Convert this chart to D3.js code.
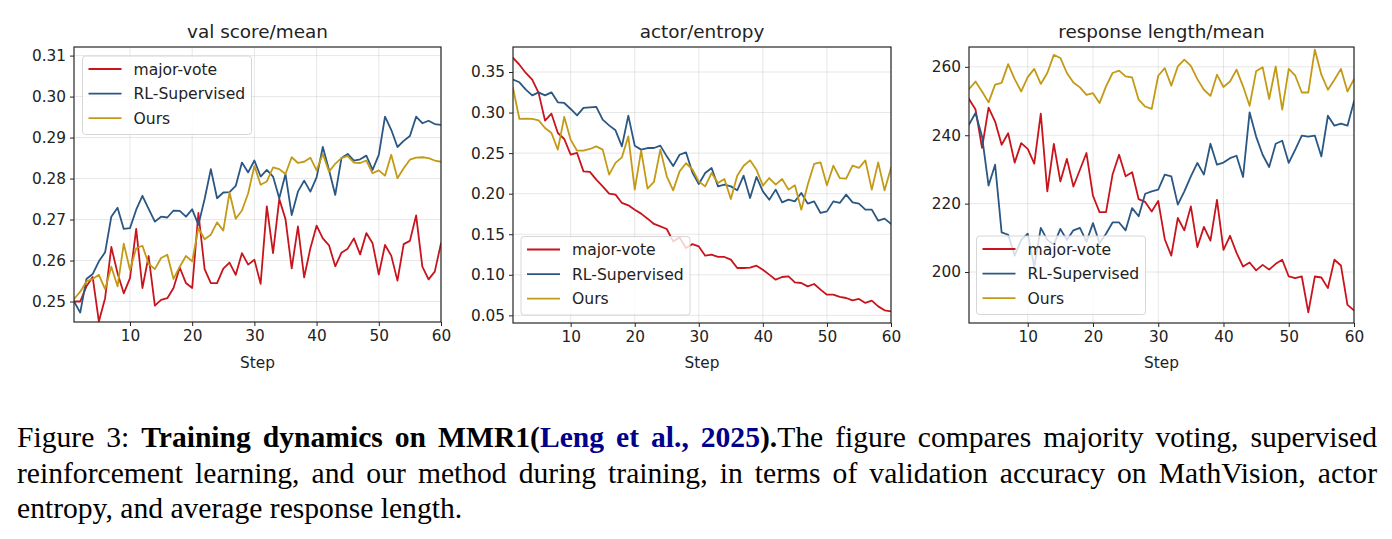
<!DOCTYPE html>
<html>
<head>
<meta charset="utf-8">
<script src="https://cdn.jsdelivr.net/npm/d3@7"></script>
<style>
  html, body { margin: 0; padding: 0; background: #fff; }
  #wrap { position: relative; width: 1392px; height: 539px; overflow: hidden; }
  svg { position: absolute; left: 0; top: 0; }
  .cap { position: absolute; left: 17px; width: 1360px; font-family: "Liberation Serif", "Times New Roman", serif;
         font-size: 29.6px; color: #000; white-space: nowrap; line-height: 36px; }
  .just { text-align: justify; text-align-last: justify; }
  .cite { color: #00008b; }
</style>
</head>
<body>
<div id="wrap">
  <svg id="chart" width="1392" height="400"></svg>
  <div class="cap just" style="top:419px"><span>Figure 3: </span><b>Training dynamics on MMR1(<span class="cite">Leng et al., 2025</span>).</b>The figure compares majority voting, supervised</div>
  <div class="cap just" style="top:455px">reinforcement learning, and our method during training, in terms of validation accuracy on MathVision, actor</div>
  <div class="cap" style="top:490px">entropy, and average response length.</div>
</div>
<script>
// ---------------- data ----------------
const steps = d3.range(1, 61);
const seriesNames = ["major-vote", "RL-Supervised", "Ours"];

const valMajor = [0.2500,0.2500,0.2537,0.2560,0.2451,0.2508,0.2633,0.2569,0.2520,0.2557,0.2677,0.2533,0.2611,0.2490,0.2504,0.2508,0.2533,0.2583,0.2545,0.2533,0.2716,0.2579,0.2545,0.2545,0.2580,0.2595,0.2565,0.2618,0.2590,0.2602,0.2543,0.2732,0.2618,0.2750,0.2701,0.2581,0.2683,0.2559,0.2630,0.2685,0.2654,0.2637,0.2586,0.2619,0.2629,0.2654,0.2615,0.2667,0.2642,0.2566,0.2638,0.2612,0.2551,0.2640,0.2648,0.2710,0.2585,0.2554,0.2573,0.2642];
const valRL = [0.2500,0.2473,0.2555,0.2567,0.2598,0.2620,0.2707,0.2729,0.2677,0.2679,0.2724,0.2758,0.2726,0.2695,0.2707,0.2705,0.2722,0.2721,0.2707,0.2725,0.2687,0.2750,0.2823,0.2752,0.2766,0.2767,0.2782,0.2839,0.2815,0.2844,0.2805,0.2821,0.2805,0.2752,0.2811,0.2711,0.2768,0.2795,0.2768,0.2803,0.2877,0.2821,0.2760,0.2850,0.2860,0.2844,0.2847,0.2856,0.2821,0.2858,0.2951,0.2919,0.2877,0.2892,0.2904,0.2951,0.2935,0.2941,0.2933,0.2931];
const valOurs = [0.2506,0.2524,0.2549,0.2555,0.2565,0.2530,0.2585,0.2537,0.2641,0.2577,0.2630,0.2636,0.2592,0.2579,0.2606,0.2614,0.2555,0.2585,0.2611,0.2598,0.2679,0.2652,0.2663,0.2693,0.2673,0.2766,0.2702,0.2722,0.2764,0.2831,0.2785,0.2793,0.2827,0.2823,0.2811,0.2852,0.2838,0.2841,0.2851,0.2820,0.2860,0.2817,0.2836,0.2850,0.2855,0.2839,0.2838,0.2844,0.2813,0.2820,0.2807,0.2858,0.2801,0.2825,0.2846,0.2851,0.2852,0.2850,0.2844,0.2841];

const entMajor = [0.3673,0.3590,0.3488,0.3406,0.3242,0.2900,0.2986,0.2748,0.2674,0.2481,0.2502,0.2275,0.2268,0.2173,0.2090,0.2000,0.1988,0.1886,0.1856,0.1803,0.1754,0.1692,0.1627,0.1597,0.1565,0.1412,0.1460,0.1331,0.1378,0.1350,0.1236,0.1248,0.1220,0.1220,0.1187,0.1084,0.1084,0.1088,0.1113,0.1063,0.1002,0.0940,0.0973,0.0981,0.0907,0.0899,0.0858,0.0887,0.0817,0.0755,0.0755,0.0727,0.0714,0.0685,0.0702,0.0653,0.0681,0.0611,0.0562,0.0549];
const entRL = [0.3406,0.3373,0.3282,0.3212,0.3249,0.3212,0.3249,0.3126,0.3118,0.3044,0.2965,0.3057,0.3064,0.3069,0.2912,0.2842,0.2781,0.2583,0.2962,0.2592,0.2543,0.2563,0.2563,0.2592,0.2460,0.2340,0.2480,0.2510,0.2260,0.2120,0.2255,0.2317,0.2090,0.2111,0.2090,0.2041,0.2222,0.1947,0.2206,0.2029,0.1926,0.2050,0.1893,0.1926,0.1905,0.2009,0.1877,0.1905,0.1762,0.1782,0.1905,0.1886,0.1988,0.1893,0.1877,0.1803,0.1803,0.1667,0.1692,0.1627];
const entOurs = [0.3303,0.2921,0.2925,0.2921,0.2904,0.2810,0.2748,0.2543,0.2946,0.2666,0.2530,0.2530,0.2551,0.2583,0.2543,0.2235,0.2379,0.2448,0.2707,0.2050,0.2530,0.2062,0.2144,0.2543,0.2214,0.2041,0.2275,0.2375,0.2300,0.2150,0.2090,0.2255,0.2132,0.2181,0.1935,0.2222,0.2345,0.2411,0.2296,0.2099,0.2193,0.2111,0.2181,0.2050,0.2103,0.1803,0.2111,0.2366,0.2386,0.2103,0.2345,0.2193,0.2185,0.2345,0.2317,0.2411,0.2050,0.2386,0.2041,0.2317];

const lenMajor = [250.6,247.5,236.3,248.1,244.0,237.2,240.6,232.0,237.7,236.0,231.7,246.3,223.6,237.5,226.5,233.1,225.0,229.9,234.8,222.3,217.5,217.5,228.5,234.3,228.0,229.2,221.3,220.5,217.7,220.8,209.6,204.8,215.8,212.2,219.2,207.3,213.2,209.2,221.1,206.5,210.6,205.6,201.6,202.8,200.5,202.1,200.7,202.4,203.6,198.7,198.2,198.7,188.2,198.7,198.4,195.3,203.6,201.9,190.4,188.8];
const lenRL = [243.1,246.5,239.6,225.3,231.4,211.6,210.9,204.8,209.4,211.2,201.6,212.9,209.4,208.0,212.6,209.4,212.2,212.9,208.9,214.3,208.5,211.2,214.5,214.5,212.2,218.7,216.3,222.9,223.6,224.1,228.5,228.0,219.7,223.6,228.0,231.9,228.5,237.5,231.4,232.0,233.3,234.0,227.8,246.7,239.6,234.3,230.7,237.5,238.4,231.9,235.8,239.9,239.6,239.9,233.8,245.7,242.8,243.4,242.8,249.9];
const lenOurs = [253.5,255.7,252.8,249.6,254.8,255.3,260.8,256.4,252.8,257.0,259.4,255.0,258.2,263.5,262.6,258.2,255.4,254.0,251.8,252.3,249.4,254.3,258.2,258.9,257.2,256.9,250.4,248.4,247.7,257.4,259.6,254.5,260.1,262.1,260.3,256.4,253.3,251.5,257.7,254.1,255.7,259.2,254.3,248.6,258.7,259.9,250.6,260.1,247.5,259.4,257.4,252.5,252.5,265.0,257.7,253.3,256.2,259.4,252.8,256.4];

const xTicks = [10, 20, 30, 40, 50, 60];
const valTicks = [0.25, 0.26, 0.27, 0.28, 0.29, 0.30, 0.31];
const entTicks = [0.05, 0.10, 0.15, 0.20, 0.25, 0.30, 0.35];
const lenTicks = [200, 220, 240, 260];

// ---------------- styles / layout ----------------
const colors = ["#c8141c", "#2a5783", "#c39a17"];
const FONT = "DejaVu Sans, sans-serif";

const panels = [
  { title: "val score/mean", series: [valMajor, valRL, valOurs], domain: [0.2450, 0.3121], ticks: valTicks, fmt: d3.format(".2f"),
    box: { l: 74, r: 441, t: 47, b: 322 }, legend: { x: 82.5, y: 56 } },
  { title: "actor/entropy", series: [entMajor, entRL, entOurs], domain: [0.0406, 0.3808], ticks: entTicks, fmt: d3.format(".2f"),
    box: { l: 513, r: 891, t: 47, b: 323 }, legend: { x: 521, y: 236.5 } },
  { title: "response length/mean", series: [lenMajor, lenRL, lenOurs], domain: [185.1, 265.8], ticks: lenTicks, fmt: d3.format("d"),
    box: { l: 969, r: 1354, t: 47, b: 323 }, legend: { x: 976.5, y: 236 } }
];

const svg = d3.select("#chart");

panels.forEach(p => {
  const B = p.box;
  const x = d3.scaleLinear().domain([1, 60]).range([B.l, B.r]);
  const y = d3.scaleLinear().domain(p.domain).range([B.b, B.t]);
  const g = svg.append("g");

  // grid
  g.append("g").selectAll("line").data(xTicks).join("line")
    .attr("x1", d => x(d)).attr("x2", d => x(d)).attr("y1", B.t).attr("y2", B.b)
    .attr("stroke", "#b0b0b0").attr("stroke-opacity", 0.3).attr("stroke-width", 1);
  g.append("g").selectAll("line").data(p.ticks).join("line")
    .attr("x1", B.l).attr("x2", B.r).attr("y1", d => y(d)).attr("y2", d => y(d))
    .attr("stroke", "#b0b0b0").attr("stroke-opacity", 0.3).attr("stroke-width", 1);

  // clip
  const cid = "clip" + B.l;
  svg.append("defs").append("clipPath").attr("id", cid)
    .append("rect").attr("x", B.l).attr("y", B.t).attr("width", B.r - B.l).attr("height", B.b - B.t);

  // lines
  const line = d3.line().x((d, i) => x(steps[i])).y(d => y(d));
  const lg = g.append("g").attr("clip-path", `url(#${cid})`);
  p.series.forEach((s, k) => {
    lg.append("path").datum(s).attr("d", line).attr("fill", "none")
      .attr("stroke", colors[k]).attr("stroke-width", 1.8).attr("stroke-linejoin", "round").attr("stroke-linecap", "square");
  });

  // axes
  const xAxis = d3.axisBottom(x).tickValues(xTicks).tickSize(4).tickPadding(4).tickFormat(d3.format("d"));
  const yAxis = d3.axisLeft(y).tickValues(p.ticks).tickSize(4).tickPadding(4).tickFormat(p.fmt);
  const gx = g.append("g").attr("transform", `translate(0,${B.b})`).call(xAxis);
  const gy = g.append("g").attr("transform", `translate(${B.l},0)`).call(yAxis);
  [gx, gy].forEach(a => {
    a.select(".domain").remove();
    a.selectAll(".tick line").attr("stroke", "#222").attr("stroke-width", 1);
    a.selectAll(".tick text").attr("fill", "#222").style("font-family", FONT).style("font-size", "15.3px");
  });

  // frame
  g.append("rect").attr("x", B.l).attr("y", B.t).attr("width", B.r - B.l).attr("height", B.b - B.t)
    .attr("fill", "none").attr("stroke", "#262626").attr("stroke-width", 1.2);

  // title and x label
  const cx = (B.l + B.r) / 2;
  g.append("text").attr("x", cx).attr("y", 37.5).attr("text-anchor", "middle")
    .style("font-family", FONT).style("font-size", "18.4px").attr("fill", "#222").text(p.title);
  g.append("text").attr("x", cx).attr("y", 367.5).attr("text-anchor", "middle")
    .style("font-family", FONT).style("font-size", "15.3px").attr("fill", "#222").text("Step");

  // legend
  const L = p.legend;
  const leg = g.append("g").attr("transform", `translate(${L.x},${L.y})`);
  leg.append("rect").attr("width", 169).attr("height", 78.5).attr("rx", 3)
    .attr("fill", "#fff").attr("fill-opacity", 0.8).attr("stroke", "#d6d6d6").attr("stroke-width", 1);
  seriesNames.forEach((n, k) => {
    const yy = 13 + k * 24.6;
    leg.append("line").attr("x1", 6).attr("x2", 39).attr("y1", yy).attr("y2", yy)
      .attr("stroke", colors[k]).attr("stroke-width", 1.8);
    leg.append("text").attr("x", 51).attr("y", yy).attr("dy", "0.36em")
      .style("font-family", FONT).style("font-size", "15.6px").attr("fill", "#222").text(n);
  });
});
</script>
</body>
</html>
